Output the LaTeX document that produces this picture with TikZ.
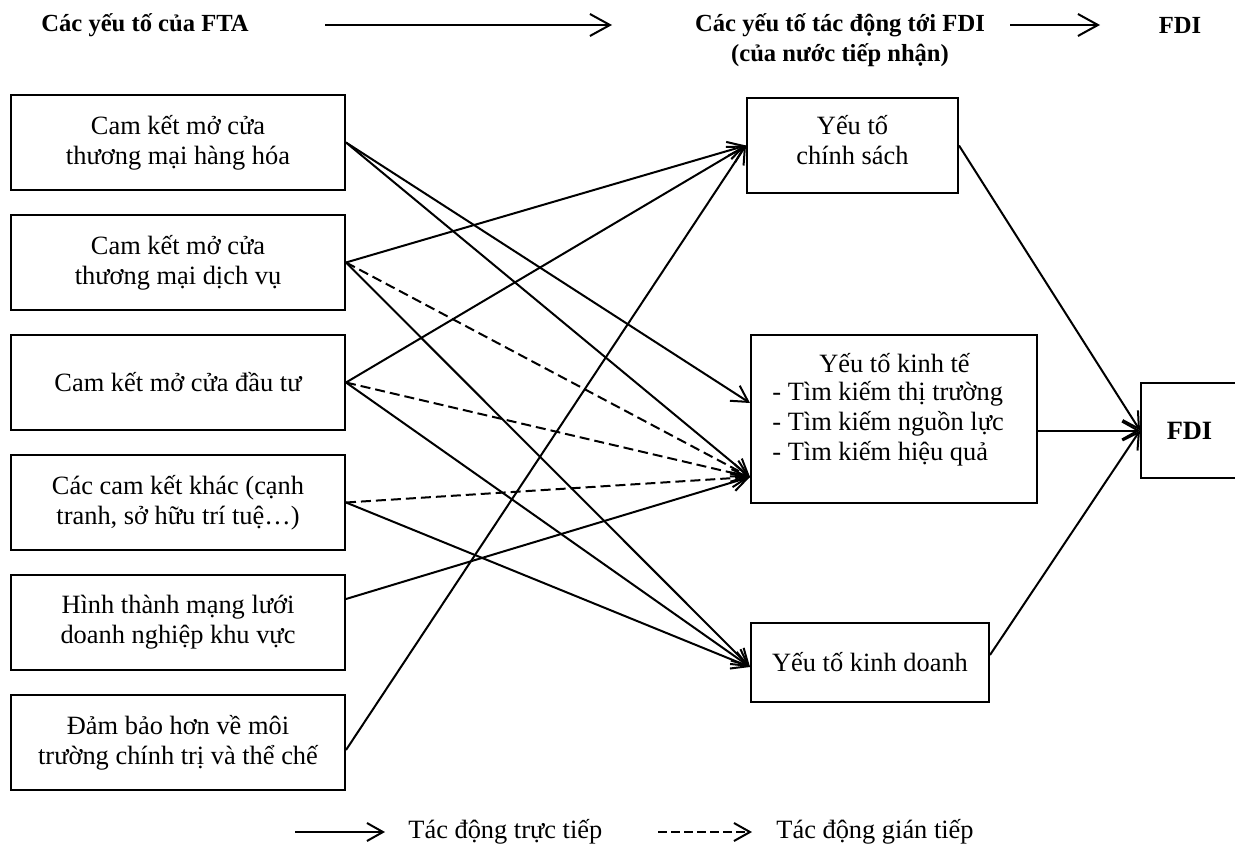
\documentclass[tikz,border=0pt]{standalone}
\usepackage{fontspec}
\setmainfont{Liberation Serif}
\usetikzlibrary{arrows.meta,calc}
\begin{document}
\begin{tikzpicture}[x=0.5pt,y=-0.5pt,
 lbox/.style={draw,line width=1pt,minimum width=167pt,minimum height=47.5pt,inner sep=0pt,align=center,font=\fontsize{13.2}{15}\selectfont},
 txt/.style={font=\fontsize{13.2}{15}\selectfont,inner sep=0pt},
 hd/.style={font=\fontsize{12.3}{15}\selectfont\bfseries,inner sep=0pt,align=center},
 con/.style={line width=1pt,line join=round,-{Straight Barb[length=8pt,width=9pt]}},
 hcon/.style={line width=1pt,line join=round,-{Straight Barb[length=10pt,width=11pt]}},
 dcon/.style={con,dash pattern=on 5pt off 2.5pt},
]
\useasboundingbox (0,0) rectangle (1235,844);

% left column
\node[lbox] (b1) at (178,142.5) {Cam kết mở cửa\\thương mại hàng hóa};
\node[lbox] (b2) at (178,262.5) {Cam kết mở cửa\\thương mại dịch vụ};
\node[lbox] (b3) at (178,382.5) {Cam kết mở cửa đầu tư};
\node[lbox] (b4) at (178,502.5) {Các cam kết khác (cạnh\\tranh, sở hữu trí tuệ…)};
\node[lbox] (b5) at (178,622.5) {Hình thành mạng lưới\\doanh nghiệp khu vực};
\node[lbox] (b6) at (178,742.5) {Đảm bảo hơn về môi\\trường chính trị và thể chế};

% middle column
\node[lbox,minimum width=105.5pt] (cs) at (852.5,145.5) {};
\node[txt,align=center] (cst) at (852.5,140) {Yếu tố\\chính sách};
\node[lbox,minimum width=143pt,minimum height=84pt] (kt) at (894,419) {};
\node[txt] (kt1) at (894.5,363) {Yếu tố kinh tế};
\node[txt,anchor=west,align=left] (kt2) at (772,424) {- Tìm kiếm thị trường\\- Tìm kiếm nguồn lực\\- Tìm kiếm hiệu quả};
\node[lbox,minimum width=119pt,minimum height=39.5pt] (kd) at (870,662.5) {Yếu tố kinh doanh};

% right
\node[lbox,minimum width=48.5pt,font=\fontsize{13.2}{15}\selectfont\bfseries] (fdi) at (1189.5,430.5) {FDI};

% header
\node[hd] (h1) at (145,25) {Các yếu tố của FTA};
\node[hd] (h2) at (840,40) {Các yếu tố tác động tới FDI\\(của nước tiếp nhận)};
\node[hd] (h3) at (1180,25) {FDI};
\coordinate (a1s) at (325,25);
\coordinate (a1e) at (612,25);
\coordinate (a2s) at (1010,25);
\coordinate (a2e) at (1100,25);
\draw[hcon] (a1s) -- (a1e);
\draw[hcon] (a2s) -- (a2e);

% connector anchor points
\coordinate (ktA) at (kt.west |- 0,403);
\coordinate (ktB) at (kt.west |- 0,477);
\coordinate (kdA) at (kd.west |- 0,667);
\coordinate (b5o) at (b5.east |- 0,599);
\coordinate (b6o) at (b6.east |- 0,750);
\coordinate (kto) at (kt.east |- fdi.west);
\coordinate (kdo) at (kd.east |- 0,655);

% left -> middle
\draw[con] (b1.east) -- (ktA);
\draw[con] (b1.east) -- (ktB);
\draw[con] (b2.east) -- (cs.west);
\draw[dcon] (b2.east) -- (ktB);
\draw[con] (b2.east) -- (kdA);
\draw[con] (b3.east) -- (cs.west);
\draw[dcon] (b3.east) -- (ktB);
\draw[con] (b3.east) -- (kdA);
\draw[dcon] (b4.east) -- (ktB);
\draw[con] (b4.east) -- (kdA);
\draw[con] (b5o) -- (ktB);
\draw[con] (b6o) -- (cs.west);

% middle -> FDI
\draw[con] (cs.east) -- (fdi.west);
\draw[con] (kto) -- (fdi.west);
\draw[con] (kdo) -- (fdi.west);

% legend
\coordinate (l1s) at (295,832);
\coordinate (l1e) at (385,832);
\coordinate (l2s) at (658,832);
\coordinate (l2e) at (752,832);
\draw[con] (l1s) -- (l1e);
\node[txt,anchor=west] (l1) at (408,832) {Tác động trực tiếp};
\draw[con,dash pattern=on 4.5pt off 2pt] (l2s) -- (l2e);
\node[txt,anchor=west] (l2) at (776,832) {Tác động gián tiếp};
\end{tikzpicture}
\end{document}
